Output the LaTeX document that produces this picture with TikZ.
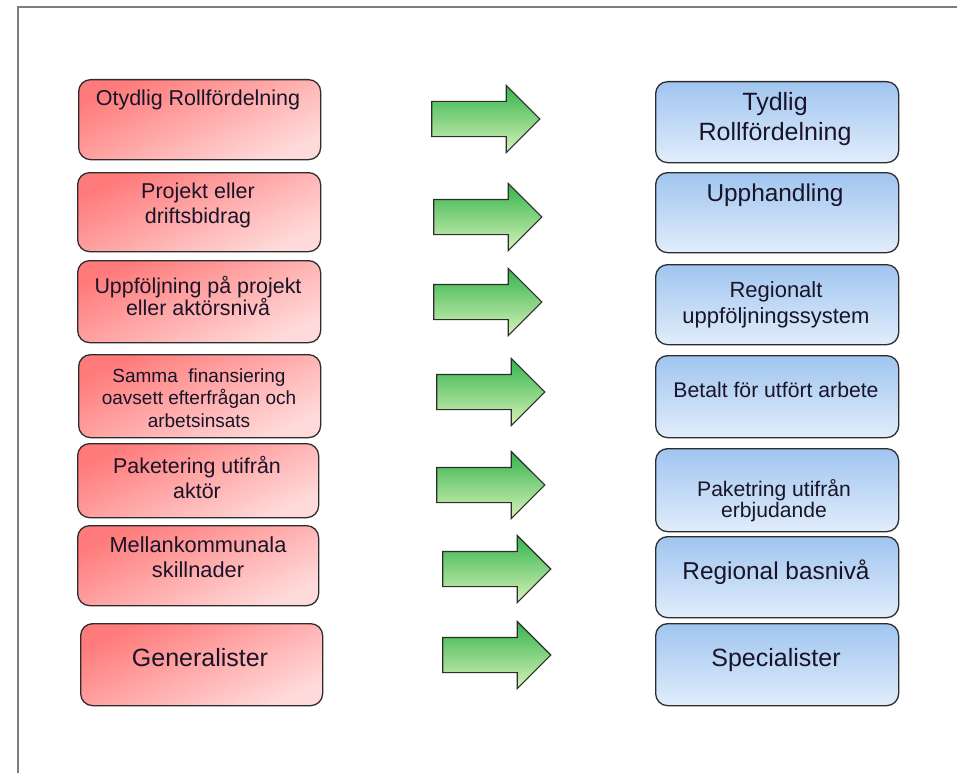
\documentclass[tikz,border=0pt]{standalone}
\usepackage{fontspec}
\setmainfont{Liberation Sans}
\usetikzlibrary{shapes.arrows}
\definecolor{redA}{RGB}{255,122,122}
\definecolor{redB}{RGB}{255,218,218}
\definecolor{bluA}{RGB}{160,197,240}
\definecolor{bluB}{RGB}{225,237,251}
\definecolor{grnA}{RGB}{52,180,76}
\definecolor{grnM}{RGB}{132,205,78}
\definecolor{grnB}{RGB}{215,242,185}
\definecolor{edgec}{RGB}{45,45,45}
\definecolor{framec}{RGB}{125,125,125}
\definecolor{txtc}{RGB}{25,20,40}
\newcommand\fsz[2]{\fontsize{#1}{#2}\selectfont}
\begin{document}
\begin{tikzpicture}[x=1pt,y=-1pt,
  boxbase/.style={draw=edgec, line width=1.3pt, rounded corners=12pt, inner sep=0pt, anchor=north west},
  redbox/.style={boxbase, top color=redA, bottom color=redB, shading angle=25},
  blubox/.style={boxbase, top color=bluA, bottom color=bluB},
  garrow/.style={single arrow, draw=edgec, line width=1.1pt, top color=grnA, middle color=grnM, bottom color=grnB,
    minimum height=108pt, minimum width=66pt, single arrow head extend=16pt, single arrow head indent=0pt,
    inner xsep=0pt, inner ysep=17pt, outer sep=0pt},
  lbl/.style={text=txtc, align=center, inner sep=0pt}
]
\useasboundingbox (0,0) rectangle (957,773);
\draw[framec, line width=1.2pt] (18,773) -- (18,7) -- (957,7);

% left boxes
\node[redbox, minimum width=242pt, minimum height=80pt] (l1) at (78,79) {};
\node[redbox, minimum width=243pt, minimum height=79pt] (l2) at (77,172) {};
\node[redbox, minimum width=243pt, minimum height=82pt] (l3) at (77,260) {};
\node[redbox, minimum width=242pt, minimum height=83pt] (l4) at (78,354) {};
\node[redbox, minimum width=241pt, minimum height=74pt] (l5) at (77,443) {};
\node[redbox, minimum width=241pt, minimum height=80pt] (l6) at (77,525) {};
\node[redbox, minimum width=242pt, minimum height=82pt] (l7) at (80,623) {};

% right boxes
\node[blubox, minimum width=243pt, minimum height=81pt] (r1) at (655,81) {};
\node[blubox, minimum width=243pt, minimum height=80pt] (r2) at (655,172) {};
\node[blubox, minimum width=243pt, minimum height=80pt] (r3) at (655,264) {};
\node[blubox, minimum width=243pt, minimum height=82pt] (r4) at (655,355) {};
\node[blubox, minimum width=243pt, minimum height=83pt] (r5) at (655,448) {};
\node[blubox, minimum width=243pt, minimum height=81pt] (r6) at (655,536) {};
\node[blubox, minimum width=243pt, minimum height=82pt] (r7) at (655,623) {};

% arrows
\node[garrow] (a1) at (477,119) {};
\node[garrow] (a2) at (479,217) {};
\node[garrow] (a3) at (479,302) {};
\node[garrow] (a4) at (482,392) {};
\node[garrow] (a5) at (482,485) {};
\node[garrow] (a6) at (488,569) {};
\node[garrow] (a7) at (488,655) {};

% left texts
\node[lbl, font=\fsz{21.5}{25}] (tl1) at (198,100) {Otydlig Rollfördelning};
\node[lbl, font=\fsz{21.5}{25}] (tl2) at (198,205.5) {Projekt eller\\driftsbidrag};
\node[lbl, font=\fsz{21.4}{22}] (tl3) at (198,296) {Uppföljning på projekt\\eller aktörsnivå};
\node[lbl, font=\fsz{19}{22.5}] (tl4) at (199,398) {Samma~~finansiering\\oavsett efterfrågan och\\arbetsinsats};
\node[lbl, font=\fsz{21.4}{25}] (tl5) at (197,477.5) {Paketering utifrån\\aktör};
\node[lbl, font=\fsz{21.8}{25}] (tl6) at (198,557.5) {Mellankommunala\\skillnader};
\node[lbl, font=\fsz{25}{30}] (tl7) at (200,658) {Generalister};

% right texts
\node[lbl, font=\fsz{25}{30}] (tr1) at (775,119) {Tydlig\\Rollfördelning};
\node[lbl, font=\fsz{24.4}{29}] (tr2) at (775,195) {Upphandling};
\node[lbl, font=\fsz{22}{26}] (tr3) at (776,305) {Regionalt\\uppföljningssystem};
\node[lbl, font=\fsz{21.2}{25}] (tr4) at (776,390) {Betalt för utfört arbete};
\node[lbl, font=\fsz{21.1}{21}] (tr5) at (774,501) {Paketring utifrån\\erbjudande};
\node[lbl, font=\fsz{24.4}{29}] (tr6) at (776,572) {Regional basnivå};
\node[lbl, font=\fsz{25}{30}] (tr7) at (776,660) {Specialister};
\end{tikzpicture}
\end{document}
